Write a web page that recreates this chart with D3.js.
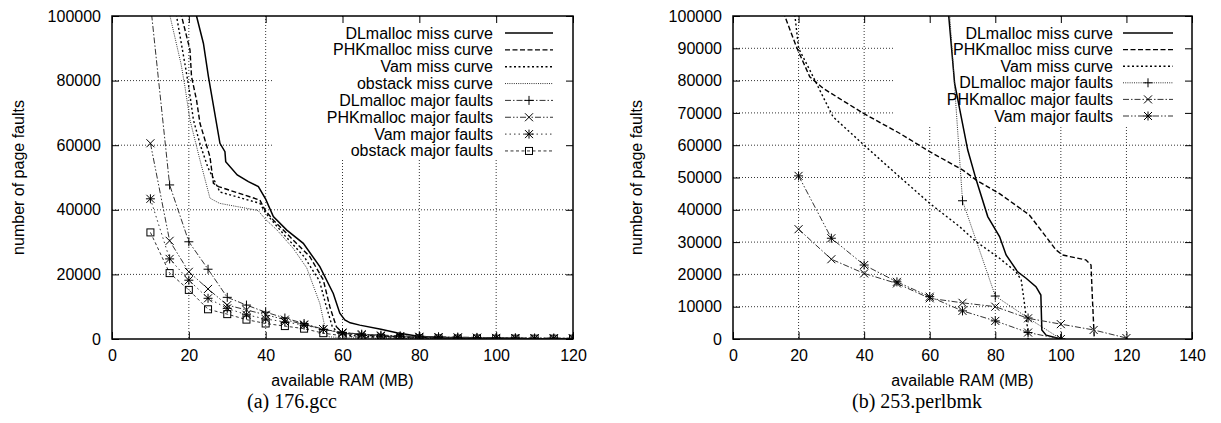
<!DOCTYPE html>
<html>
<head>
<meta charset="utf-8">
<script src="https://cdn.jsdelivr.net/npm/d3@7"></script>
<style>
  body { margin: 0; background: #fff; }
  svg { display: block; }
  text { font-family: "Liberation Sans", Arial, sans-serif; fill: #000; }
  .caption { font-family: "Liberation Serif", "Times New Roman", serif; }
</style>
</head>
<body>
<div class="chart"></div>
<script>
// ---------- (a) 176.gcc ----------
var gccMB = [10, 15, 20, 25, 30, 35, 40, 45, 50, 55, 60, 65, 70, 75, 80, 85, 90, 95, 100, 105, 110, 115, 120];
var gccDLMajor  = [104000, 47700, 30100, 21600, 12900, 10500, 8300, 6500, 4800, 3000, 2000, 1500, 1200, 1000, 800, 700, 600, 500, 400, 350, 300, 300, 250];
var gccPHKMajor = [60600, 30400, 20800, 15500, 10500, 9000, 7500, 6000, 4500, 3000, 2000, 1500, 1100, 900, 700, 600, 500, 400, 350, 300, 250, 200, 200];
var gccVamMajor = [43400, 24800, 18200, 12600, 9500, 7500, 6200, 5300, 4300, 3000, 1800, 1200, 900, 700, 600, 500, 400, 350, 300, 250, 200, 200, 150];
var gccObsMajor = [33000, 20400, 15200, 9200, 7700, 6000, 4800, 4000, 3200, 1800, 1000, 500, 400, 300, 250, 200, 150, 150, 100, 100, 100, 100, 100];

var gccDLMissX = [21.5, 22, 23.8, 25.1, 28.1, 29.4, 29.6, 32.6, 35.5, 38.1, 40, 42, 45.5, 49.8, 54.1, 57.6, 59.3, 60.6, 62, 64.5, 70, 74.1, 79.3, 84.5, 90, 100, 110, 120];
var gccDLMissY = [104000, 100000, 91500, 81200, 60600, 58000, 54900, 50800, 48700, 47200, 43300, 37900, 33700, 29600, 22400, 14100, 8000, 5900, 5000, 4300, 3000, 1960, 930, 500, 300, 150, 100, 50];
var gccPHKMissX = [17.5, 18.1, 20.3, 20.7, 22, 22.9, 25.5, 26.4, 27.7, 38.5, 39.8, 42, 47.2, 51.5, 55, 56.7, 58.4, 60.1, 65, 70, 80, 90, 100, 120];
var gccPHKMissY = [106000, 100000, 89500, 81200, 74000, 66800, 56400, 48200, 47200, 43000, 40000, 36800, 30600, 25500, 18300, 10000, 3800, 1800, 1200, 900, 500, 300, 150, 50];
var gccVamMissX = [16.2, 16.8, 19, 20, 21.2, 23, 25, 26.8, 28.1, 38.5, 40, 45, 50, 54, 55.8, 57.3, 59, 65, 80, 100, 120];
var gccVamMissY = [106000, 100000, 85000, 78000, 67800, 60000, 53000, 48700, 45500, 42000, 39000, 32000, 25500, 18000, 10000, 4000, 1500, 800, 400, 150, 50];
var gccObsMissX = [14.5, 15.1, 18, 19, 20.3, 22.9, 25.5, 28, 38, 40, 42.9, 47.2, 50.7, 54.1, 55.4, 56.2, 60, 70, 90, 120];
var gccObsMissY = [106000, 100000, 85000, 78000, 67800, 55400, 43600, 42000, 39800, 37000, 33800, 28000, 22000, 11000, 3800, 700, 400, 200, 100, 50];

// ---------- (b) 253.perlbmk ----------
var perlMajorMB = [20, 30, 40, 50, 60, 70, 80, 90, 100, 110, 120];
var perlPHKMajor = [34000, 24700, 20300, 17200, 12600, 11200, 10000, 6400, 4600, 2800, 300];
var perlVamMajorMB = [20, 30, 40, 50, 60, 70, 80, 90, 100];
var perlVamMajor = [50500, 31200, 22900, 17700, 13100, 8700, 5600, 2000, 0];
var perlDLMajorMB = [60, 70, 80, 90, 100];
var perlDLMajor = [190000, 42800, 13300, 6500, 0];

var perlDLMissX = [65.3, 65.8, 67.6, 71.6, 74.2, 77.7, 81.3, 83.3, 86.8, 89.4, 92.4, 93.9, 94.2, 95.5, 98.5, 100];
var perlDLMissY = [110000, 100000, 79100, 58500, 49200, 37900, 31700, 26000, 20800, 18800, 16200, 13600, 2800, 1200, 400, 0];
var perlPHKMissX = [15, 15.8, 19.4, 23.4, 27.5, 39.7, 50.8, 60, 70.1, 74.2, 81.3, 90.4, 98.5, 100.5, 107.6, 109.2, 109.6, 110.2];
var perlPHKMissY = [106000, 100000, 90300, 81200, 77600, 69900, 63700, 58000, 52300, 49200, 45000, 38400, 27600, 26000, 24500, 22900, 13100, 0];
var perlVamMissX = [18.4, 18.9, 20, 23.4, 30.5, 40, 50.8, 60, 69.1, 74.2, 81.3, 86.3, 87.9, 88.9, 89.9, 90];
var perlVamMissY = [106000, 100000, 90000, 83300, 68800, 60000, 50200, 42000, 34800, 30100, 25000, 20800, 18300, 11000, 2800, 0];

// gnuplot-ish line types
var lineTypes = {
  lt1: { dash: null, width: 1.5, color: "#000" },
  lt2: { dash: "5,2.5", width: 1.4, color: "#000" },
  lt3: { dash: "2,2.5", width: 1.4, color: "#000" },
  lt4: { dash: "1,1.2", width: 1, color: "#333" },
  lt5: { dash: "6,2,1.5,2", width: 1, color: "#333" },
  lt6: { dash: "6,2,1.5,2,1.5,2", width: 1, color: "#333" },
  lt7: { dash: "1.5,3", width: 1, color: "#333" },
  lt8: { dash: "3,2.5", width: 1, color: "#333" }
};

var svgWidth = 1221;
var svgHeight = 423;

var svg = d3.select(".chart")
  .append("svg")
  .attr("width", svgWidth)
  .attr("height", svgHeight);

function zip(xs, ys) {
  return xs.map(function(x, i) { return [x, ys[i]]; });
}

// marker shapes
function drawMarker(g, type, cx, cy) {
  var s = 4;
  var m = g.append("g").attr("transform", `translate(${cx},${cy})`)
    .attr("stroke", "#000").attr("stroke-width", 1).attr("fill", "none");
  if (type === "plus" || type === "star") {
    m.append("line").attr("x1", -s - 0.5).attr("x2", s + 0.5).attr("y1", 0).attr("y2", 0);
    m.append("line").attr("x1", 0).attr("x2", 0).attr("y1", -s - 0.5).attr("y2", s + 0.5);
  }
  if (type === "cross" || type === "star") {
    m.append("line").attr("x1", -s).attr("x2", s).attr("y1", -s).attr("y2", s);
    m.append("line").attr("x1", -s).attr("x2", s).attr("y1", s).attr("y2", -s);
  }
  if (type === "box") {
    m.append("rect").attr("x", -3.5).attr("y", -3.5).attr("width", 7).attr("height", 7);
  }
}

function drawPanel(p) {
  var xScale = d3.scaleLinear().domain([0, p.xmax]).range([p.left, p.right]);
  var yScale = d3.scaleLinear().domain([0, 100000]).range([p.bottom, p.top]);
  var xTicks = d3.range(0, p.xmax + 1, 20);
  var yTicks = d3.range(0, 100001, p.ystep);

  var g = svg.append("g");

  // clip to plot frame
  var clipId = "clip-" + p.id;
  g.append("clipPath").attr("id", clipId)
    .append("rect")
    .attr("x", p.left).attr("y", p.top)
    .attr("width", p.right - p.left).attr("height", p.bottom - p.top);

  // grid
  var grid = g.append("g")
    .attr("stroke", "#000").attr("stroke-width", 0.8).attr("stroke-dasharray", "1,2");
  grid.selectAll(".gx").data(xTicks.slice(1, -1)).enter().append("line")
    .attr("x1", d => xScale(d)).attr("x2", d => xScale(d))
    .attr("y1", p.top).attr("y2", p.bottom);
  grid.selectAll(".gy").data(yTicks.slice(1, -1)).enter().append("line")
    .attr("x1", p.left).attr("x2", p.right)
    .attr("y1", d => yScale(d)).attr("y2", d => yScale(d));

  // blank the key area over the grid
  g.append("rect")
    .attr("x", p.key.x).attr("y", p.top + 1)
    .attr("width", p.right - p.key.x - 1).attr("height", p.key.h)
    .attr("fill", "#fff");

  // axes (ticks inward, mirrored)
  var fmt = d3.format("d");
  var bottomAxis = d3.axisBottom(xScale).tickValues(xTicks).tickFormat(fmt).tickSize(-7).tickPadding(11);
  var leftAxis = d3.axisLeft(yScale).tickValues(yTicks).tickFormat(fmt).tickSize(-7).tickPadding(11);
  var topAxis = d3.axisTop(xScale).tickValues(xTicks).tickFormat("").tickSize(-7);
  var rightAxis = d3.axisRight(yScale).tickValues(yTicks).tickFormat("").tickSize(-7);

  [
    [bottomAxis, `translate(0,${p.bottom})`],
    [leftAxis, `translate(${p.left},0)`],
    [topAxis, `translate(0,${p.top})`],
    [rightAxis, `translate(${p.right},0)`]
  ].forEach(function(a) {
    var ax = g.append("g").attr("transform", a[1]).call(a[0]);
    ax.select(".domain").remove();
    ax.selectAll("line").attr("stroke", "#000").attr("stroke-width", 1);
    ax.selectAll("text")
      .attr("font-family", "Liberation Sans, Arial, sans-serif")
      .attr("font-size", 16).attr("fill", "#000");
  });

  // data
  var plot = g.append("g").attr("clip-path", `url(#${clipId})`);
  var line = d3.line().x(d => xScale(d[0])).y(d => yScale(d[1]));

  p.series.forEach(function(s) {
    var lt = lineTypes[s.lt];
    var pts = zip(s.x, s.y);
    plot.append("path")
      .datum(pts)
      .attr("d", line)
      .attr("fill", "none")
      .attr("stroke", lt.color)
      .attr("stroke-width", lt.width)
      .attr("stroke-dasharray", lt.dash);
    if (s.marker) {
      pts.forEach(function(d) {
        if (d[1] <= 100000) drawMarker(plot, s.marker, xScale(d[0]), yScale(d[1]));
      });
    }
  });

  // frame
  g.append("rect")
    .attr("x", p.left).attr("y", p.top)
    .attr("width", p.right - p.left).attr("height", p.bottom - p.top)
    .attr("fill", "none").attr("stroke", "#000").attr("stroke-width", 1.5);

  // key
  var key = g.append("g");
  p.series.forEach(function(s, i) {
    var lt = lineTypes[s.lt];
    var ky = p.key.y0 + i * p.key.dy;
    key.append("text")
      .attr("x", p.key.textX).attr("y", ky + 5.5)
      .attr("text-anchor", "end").attr("font-size", 16)
      .text(s.name);
    key.append("line")
      .attr("x1", p.key.lineX0).attr("x2", p.key.lineX1)
      .attr("y1", ky).attr("y2", ky)
      .attr("stroke", lt.color).attr("stroke-width", lt.width)
      .attr("stroke-dasharray", lt.dash);
    if (s.marker) drawMarker(key, s.marker, (p.key.lineX0 + p.key.lineX1) / 2, ky);
  });

  // axis titles
  g.append("text")
    .attr("x", (p.left + p.right) / 2).attr("y", 386)
    .attr("text-anchor", "middle").attr("font-size", 16)
    .text("available RAM (MB)");
  g.append("text")
    .attr("transform", `translate(${p.ylabelX},${(p.top + p.bottom) / 2}) rotate(-90)`)
    .attr("text-anchor", "middle").attr("font-size", 16)
    .text("number of page faults");

  // caption
  g.append("text")
    .attr("class", "caption")
    .attr("x", p.captionX).attr("y", 408)
    .attr("text-anchor", "middle").attr("font-size", 20)
    .text(p.caption);
}

drawPanel({
  id: "gcc",
  left: 112, right: 573, top: 16, bottom: 339,
  xmax: 120, ystep: 20000,
  ylabelX: 24,
  captionX: 292,
  caption: "(a) 176.gcc",
  key: { x: 272, h: 141, y0: 33, dy: 16.85, textX: 493, lineX0: 505, lineX1: 553 },
  series: [
    { name: "DLmalloc miss curve", lt: "lt1", x: gccDLMissX, y: gccDLMissY },
    { name: "PHKmalloc miss curve", lt: "lt2", x: gccPHKMissX, y: gccPHKMissY },
    { name: "Vam miss curve", lt: "lt3", x: gccVamMissX, y: gccVamMissY },
    { name: "obstack miss curve", lt: "lt4", x: gccObsMissX, y: gccObsMissY },
    { name: "DLmalloc major faults", lt: "lt5", marker: "plus", x: gccMB, y: gccDLMajor },
    { name: "PHKmalloc major faults", lt: "lt6", marker: "cross", x: gccMB, y: gccPHKMajor },
    { name: "Vam major faults", lt: "lt7", marker: "star", x: gccMB, y: gccVamMajor },
    { name: "obstack major faults", lt: "lt8", marker: "box", x: gccMB, y: gccObsMajor }
  ]
});

drawPanel({
  id: "perl",
  left: 733, right: 1192, top: 16, bottom: 339,
  xmax: 140, ystep: 10000,
  ylabelX: 642,
  captionX: 917,
  caption: "(b) 253.perlbmk",
  key: { x: 893, h: 108, y0: 33, dy: 16.6, textX: 1113, lineX0: 1123, lineX1: 1173 },
  series: [
    { name: "DLmalloc miss curve", lt: "lt1", x: perlDLMissX, y: perlDLMissY },
    { name: "PHKmalloc miss curve", lt: "lt2", x: perlPHKMissX, y: perlPHKMissY },
    { name: "Vam miss curve", lt: "lt3", x: perlVamMissX, y: perlVamMissY },
    { name: "DLmalloc major faults", lt: "lt4", marker: "plus", x: perlDLMajorMB, y: perlDLMajor },
    { name: "PHKmalloc major faults", lt: "lt5", marker: "cross", x: perlMajorMB, y: perlPHKMajor },
    { name: "Vam major faults", lt: "lt6", marker: "star", x: perlVamMajorMB, y: perlVamMajor }
  ]
});
</script>
</body>
</html>
